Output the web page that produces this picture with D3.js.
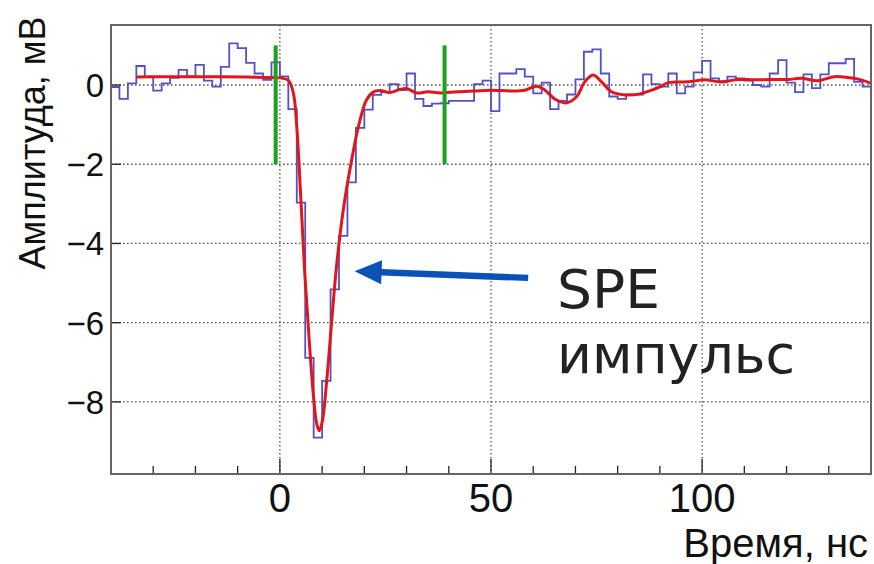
<!DOCTYPE html>
<html><head><meta charset="utf-8">
<script src="https://cdn.jsdelivr.net/npm/d3@7"></script>
<style>html,body{margin:0;padding:0;background:#fff;}svg{display:block;}</style>
</head><body>
<svg id="chart" width="874" height="564"></svg>
<script>
// ---- data ----
const binStart = -40;
const binWidth = 2;
const histValues = [
  -0.05,-0.35,0.04,0.48,0.21,-0.14,0.04,0.18,0.38,0.21,
  0.51,0.11,-0.04,0.46,1.05,0.93,0.56,0.29,0.13,0.57,
  0.22,-0.61,-2.97,-6.89,-8.9,-7.47,-5.16,-3.81,-2.46,-1.08,
  -0.62,-0.25,-0.18,0.02,-0.13,0.29,-0.35,-0.53,-0.47,-0.46,
  -0.4,-0.4,-0.4,0.02,0.11,-0.66,0.29,0.29,0.4,0.21,
  -0.21,0.06,-0.61,-0.4,-0.24,0.14,0.84,0.9,0.29,-0.29,
  -0.35,-0.24,-0.24,0.27,0.02,-0.04,0.29,-0.21,-0.04,0.32,
  0.61,0.17,0.07,0.21,0.17,0.11,0.0,-0.04,0.29,0.63,
  0.06,-0.18,0.27,-0.08,0.27,0.55,0.55,0.66,0.08,-0.04
];
const fitT = [-34,-25,-15,-8,-3,0,2,3.2,4,4.9,5.9,7,7.9,8.7,9.3,10.1,11.1,12.3,13.4,15,17,18.6,20.5,22.1,23.7,26,28.4,30,32.4,35,38,42,46,50,55,58,60.8,62.8,65.2,67.9,70.3,72.2,74.2,76.2,78.5,81.7,85,88,90,92,96.7,100.6,104.5,108.5,112.4,116.4,120.3,123.5,127.4,131.3,134.5,137.7,140];
const fitV = [0.2,0.21,0.21,0.2,0.19,0.18,0.12,-0.21,-1.05,-2.74,-4.76,-6.52,-7.79,-8.54,-8.73,-8.46,-7.45,-5.93,-4.59,-3.16,-1.89,-1.05,-0.38,-0.18,-0.14,-0.19,-0.11,-0.09,-0.2,-0.17,-0.2,-0.17,-0.15,-0.13,-0.15,-0.13,-0.03,-0.13,-0.36,-0.45,-0.29,0.08,0.25,0.08,-0.17,-0.25,-0.23,-0.13,-0.05,0.06,0.08,0.13,0.08,0.14,0.13,0.14,0.14,0.17,0.11,0.21,0.19,0.13,0.04];
const windowMarks = [-1, 39];
const windowRange = [1.0, -2.0];
const xMajorTicks = [0, 50, 100];
const xMinorTicks = [-30,-20,-10,10,20,30,40,60,70,80,90,110,120,130];
const yTicks = [0, -2, -4, -6, -8];
const xDomain = [-40, 140];
const yDomain = [-9.82, 1.515];
const yTitle = "Амплитуда, мВ";
const xTitle = "Время, нс";
const noteLines = ["SPE", "импульс"];
const arrowFrom = [58.8, -4.87];
const arrowTo = [17.7, -4.7];

// ---- layout ----
const svg = d3.select("#chart");
const L = 111, R = 871, T = 25, B = 474;
const x = d3.scaleLinear().domain(xDomain).range([L, R]);
const y = d3.scaleLinear().domain(yDomain).range([B, T]);

// grid
const grid = svg.append("g").attr("stroke", "#555").attr("stroke-width", 1.3).attr("stroke-dasharray", "1.6,2.4");
grid.selectAll("line.gx").data(xMajorTicks).join("line")
  .attr("x1", d => x(d)).attr("x2", d => x(d)).attr("y1", T).attr("y2", B);
grid.selectAll("line.gy").data(yTicks).join("line")
  .attr("x1", L).attr("x2", R).attr("y1", d => y(d)).attr("y2", d => y(d));

// ticks
const tk = svg.append("g").attr("stroke", "#222").attr("stroke-width", 1.3);
tk.selectAll("line.mj").data(xMajorTicks).join("line")
  .attr("x1", d => x(d)).attr("x2", d => x(d)).attr("y1", B).attr("y2", B - 15);
tk.selectAll("line.mn").data(xMinorTicks).join("line")
  .attr("x1", d => x(d)).attr("x2", d => x(d)).attr("y1", B).attr("y2", B - 8);
tk.selectAll("line.yt").data(yTicks).join("line")
  .attr("x1", L).attr("x2", L + 10).attr("y1", d => y(d)).attr("y2", d => y(d));

// histogram step outline
const histPts = [];
histValues.forEach((v, i) => {
  const t0 = binStart + i * binWidth;
  histPts.push([t0, v], [t0 + binWidth, v]);
});
const line = d3.line().x(d => x(d[0])).y(d => y(d[1]));
svg.append("path").attr("d", line(histPts))
  .attr("fill", "none").attr("stroke", "#5252c6").attr("stroke-width", 1.8);

// fit curve
const fitPts = fitT.map((t, i) => [t, fitV[i]]);
svg.append("path").attr("d", line.curve(d3.curveCatmullRom.alpha(0.5))(fitPts))
  .attr("fill", "none").attr("stroke", "#e1161c").attr("stroke-width", 3);

// window marks
svg.selectAll("line.win").data(windowMarks).join("line")
  .attr("x1", d => x(d)).attr("x2", d => x(d))
  .attr("y1", y(windowRange[0])).attr("y2", y(windowRange[1]))
  .attr("stroke", "#1ea01e").attr("stroke-width", 4);

// frame
svg.append("rect").attr("x", L).attr("y", T).attr("width", R - L).attr("height", B - T)
  .attr("fill", "none").attr("stroke", "#666").attr("stroke-width", 2);

// tick labels
const fmt = d3.format("d");
svg.selectAll("text.yl").data(yTicks).join("text")
  .attr("x", L - 7).attr("y", d => y(d)).attr("dy", "0.36em")
  .attr("text-anchor", "end").attr("font-family", "Liberation Sans, Arial, sans-serif")
  .attr("font-size", 33).attr("fill", "#111").text(d => fmt(d));
svg.selectAll("text.xl").data(xMajorTicks).join("text")
  .attr("x", d => x(d)).attr("y", B + 38)
  .attr("text-anchor", "middle").attr("font-family", "Liberation Sans, Arial, sans-serif")
  .attr("font-size", 40).attr("fill", "#111").text(d => fmt(d));

// titles
svg.append("text").attr("transform", `translate(45,143) rotate(-90)`)
  .attr("text-anchor", "middle").attr("font-family", "Liberation Sans, Arial, sans-serif")
  .attr("font-size", 36).attr("fill", "#111").text(yTitle);
svg.append("text").attr("x", 868).attr("y", 557).attr("text-anchor", "end")
  .attr("font-family", "Liberation Sans, Arial, sans-serif")
  .attr("font-size", 40).attr("fill", "#111").text(xTitle);

// annotation
const note = svg.append("g").attr("font-family", "DejaVu Sans, sans-serif").attr("font-weight", 400).attr("fill", "#222").attr("font-size", 53);
note.append("text").attr("x", 557).attr("y", 308).attr("textLength", 103).attr("lengthAdjust", "spacingAndGlyphs").text(noteLines[0]);
note.append("text").attr("x", 557).attr("y", 373).attr("textLength", 238).attr("lengthAdjust", "spacingAndGlyphs").text(noteLines[1]);

// arrow
const ax0 = x(arrowFrom[0]), ay0 = y(arrowFrom[1]), ax1 = x(arrowTo[0]), ay1 = y(arrowTo[1]);
const ang = Math.atan2(ay1 - ay0, ax1 - ax0);
const headLen = 27, headHalf = 12, shaft = 3.2;
const bx = ax1 - headLen * Math.cos(ang), by = ay1 - headLen * Math.sin(ang);
const nx = -Math.sin(ang), ny = Math.cos(ang);
const arrowPath = d3.path();
arrowPath.moveTo(ax0 + nx * shaft, ay0 + ny * shaft);
arrowPath.lineTo(bx + nx * shaft, by + ny * shaft);
arrowPath.lineTo(bx + nx * headHalf, by + ny * headHalf);
arrowPath.lineTo(ax1, ay1);
arrowPath.lineTo(bx - nx * headHalf, by - ny * headHalf);
arrowPath.lineTo(bx - nx * shaft, by - ny * shaft);
arrowPath.lineTo(ax0 - nx * shaft, ay0 - ny * shaft);
arrowPath.closePath();
svg.append("path").attr("d", arrowPath.toString()).attr("fill", "#0b52b8");
</script>
</body></html>
